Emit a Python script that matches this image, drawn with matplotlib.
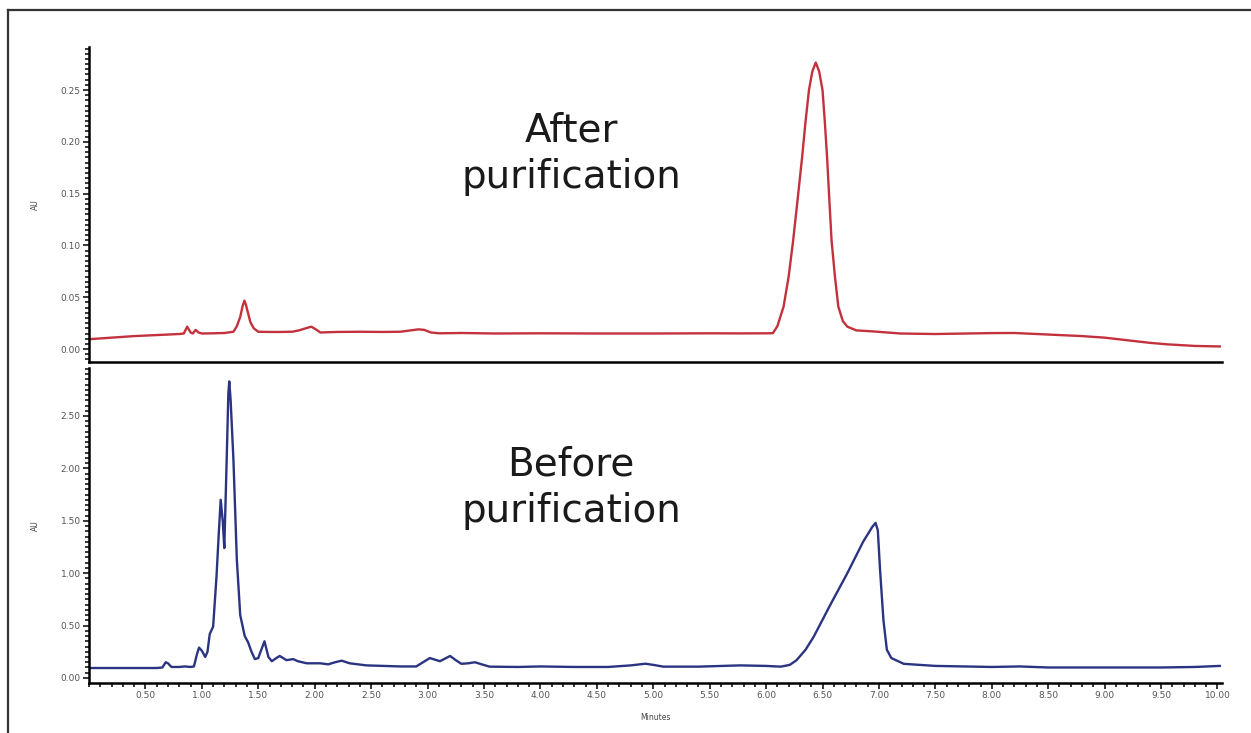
import matplotlib
matplotlib.use('Agg')
import matplotlib.pyplot as plt
from matplotlib.ticker import MultipleLocator, FormatStrFormatter
from matplotlib.lines import Line2D

# after purification (red trace), minutes vs AU
after_t = [0.00, 0.20, 0.40, 0.60, 0.80, 0.84, 0.87, 0.90, 0.92, 0.945, 0.97, 1.00, 1.10, 1.20, 1.28,
           1.31, 1.34, 1.36, 1.377, 1.39, 1.41, 1.43, 1.46, 1.50, 1.60, 1.70, 1.80, 1.86, 1.92, 1.97,
           2.01, 2.05, 2.20, 2.40, 2.60, 2.76, 2.85, 2.92, 2.97, 3.03, 3.10, 3.30, 3.60, 4.00, 4.50,
           5.00, 5.50, 5.77, 6.00, 6.06, 6.10, 6.155, 6.20, 6.24, 6.28, 6.32, 6.35, 6.38, 6.41, 6.44,
           6.47, 6.50, 6.52, 6.54, 6.56, 6.58, 6.61, 6.64, 6.68, 6.72, 6.80, 6.95, 7.19, 7.50, 8.00,
           8.20, 8.50, 8.80, 9.00, 9.20, 9.40, 9.56, 9.80, 10.02]
after_au = [0.0095, 0.011, 0.0125, 0.0135, 0.0145, 0.015, 0.0216, 0.016, 0.015, 0.0185, 0.016, 0.015, 0.0152, 0.0155, 0.0167,
            0.022, 0.031, 0.041, 0.0467, 0.043, 0.0344, 0.026, 0.020, 0.0167, 0.0165, 0.0165, 0.0167, 0.018, 0.020, 0.0216,
            0.019, 0.016, 0.0165, 0.0167, 0.0165, 0.0167, 0.018, 0.019, 0.0185, 0.016, 0.0152, 0.0155, 0.015, 0.0152, 0.015,
            0.015, 0.0152, 0.0151, 0.0152, 0.0153, 0.022, 0.041, 0.07, 0.105, 0.145, 0.186, 0.22, 0.25, 0.268, 0.2765,
            0.268, 0.25, 0.22, 0.186, 0.145, 0.105, 0.07, 0.041, 0.027, 0.0216, 0.018, 0.017, 0.015, 0.0145, 0.0154,
            0.0155, 0.014, 0.0125, 0.011, 0.0085, 0.006, 0.0045, 0.003, 0.0025]

# before purification (navy trace)
before_t = [0.00, 0.30, 0.60, 0.65, 0.68, 0.70, 0.73, 0.80, 0.85, 0.90, 0.93, 0.955, 0.975, 1.00, 1.03,
            1.05, 1.07, 1.10, 1.13, 1.15, 1.167, 1.185, 1.199, 1.22, 1.235, 1.243, 1.255, 1.28, 1.31, 1.34,
            1.38, 1.41, 1.44, 1.47, 1.50, 1.52, 1.555, 1.59, 1.62, 1.66, 1.69, 1.75, 1.81, 1.85, 1.93,
            2.05, 2.12, 2.18, 2.24, 2.31, 2.46, 2.76, 2.90, 2.96, 3.02, 3.11, 3.20, 3.25, 3.30, 3.36,
            3.42, 3.48, 3.55, 3.80, 4.00, 4.30, 4.60, 4.80, 4.93, 5.00, 5.09, 5.40, 5.77, 6.00, 6.13,
            6.21, 6.27, 6.35, 6.42, 6.57, 6.72, 6.86, 6.94, 6.97, 6.99, 7.01, 7.04, 7.07, 7.11, 7.22,
            7.50, 8.00, 8.25, 8.50, 9.00, 9.50, 9.80, 10.02]
before_au = [0.095, 0.095, 0.095, 0.10, 0.15, 0.14, 0.105, 0.105, 0.11, 0.105, 0.11, 0.22, 0.29, 0.26, 0.20,
             0.25, 0.42, 0.49, 0.97, 1.38, 1.70, 1.50, 1.24, 2.08, 2.72, 2.83, 2.65, 2.08, 1.13, 0.60,
             0.40, 0.34, 0.25, 0.18, 0.19, 0.25, 0.35, 0.20, 0.16, 0.19, 0.21, 0.17, 0.18, 0.16, 0.14,
             0.14, 0.13, 0.15, 0.165, 0.14, 0.12, 0.11, 0.11, 0.15, 0.19, 0.16, 0.21, 0.17, 0.135, 0.14,
             0.15, 0.13, 0.108, 0.105, 0.11, 0.105, 0.105, 0.12, 0.136, 0.125, 0.108, 0.108, 0.12, 0.115, 0.108,
             0.125, 0.17, 0.27, 0.39, 0.70, 1.00, 1.30, 1.44, 1.48, 1.41, 1.03, 0.55, 0.27, 0.19, 0.135,
             0.115, 0.105, 0.11, 0.10, 0.10, 0.10, 0.105, 0.115]

W, H = 1251, 733
fig = plt.figure(figsize=(W / 100, H / 100), dpi=100)
fig.patch.set_facecolor('white')

# outer frame (only top and left edges are visible in the crop)
fig.add_artist(Line2D([7.5 / W, 7.5 / W], [0, 1 - 10 / H], color='#333333', lw=1.6))
fig.add_artist(Line2D([7.5 / W, 1], [1 - 10 / H, 1 - 10 / H], color='#333333', lw=1.6))

left, right = 89 / W, 1222 / W
ax1 = fig.add_axes([left, 1 - 362 / H, right - left, (362 - 47) / H])
ax2 = fig.add_axes([left, 1 - 683 / H, right - left, (683 - 368) / H])

red = '#c3313d'
navy = '#2b3481'
ax1.plot(after_t, after_au, color=red, lw=1.7, solid_joinstyle='round')
ax2.plot(before_t, before_au, color=navy, lw=1.7, solid_joinstyle='round')

for ax in (ax1, ax2):
    ax.set_xlim(0, 10.04)
    for s in ('top', 'right'):
        ax.spines[s].set_visible(False)
    for s in ('left', 'bottom'):
        ax.spines[s].set_linewidth(1.8)
    ax.tick_params(axis='both', which='major', length=4.5, width=1.1, labelsize=6.5,
                   labelcolor='#555555', pad=1.5)
    ax.tick_params(axis='both', which='minor', length=3, width=1.1)
    ax.set_ylabel('AU', fontsize=5.5, color='#444444')
    ax.yaxis.set_label_coords(-0.043, 0.5)

ax1.set_ylim(-0.0125, 0.2915)
ax1.yaxis.set_major_locator(MultipleLocator(0.05))
ax1.yaxis.set_minor_locator(MultipleLocator(0.005))
ax1.yaxis.set_major_formatter(FormatStrFormatter('%.2f'))
ax1.tick_params(axis='x', which='both', bottom=False, labelbottom=False)

ax2.set_ylim(-0.048, 2.958)
ax2.yaxis.set_major_locator(MultipleLocator(0.5))
ax2.yaxis.set_minor_locator(MultipleLocator(0.05))
ax2.yaxis.set_major_formatter(FormatStrFormatter('%.2f'))
ax2.set_xticks([0.5 * i for i in range(1, 21)])
ax2.xaxis.set_minor_locator(MultipleLocator(0.1))
ax2.xaxis.set_major_formatter(FormatStrFormatter('%.2f'))
ax2.set_xlabel('Minutes', fontsize=5.5, color='#444444')
ax2.xaxis.set_label_coords(0.5, -0.095)

fig.text(571 / W, 1 - 154 / H, 'After\npurification', fontsize=28, ha='center', va='center',
         linespacing=1.3, color='#1a1a1a')
fig.text(571 / W, 1 - 488 / H, 'Before\npurification', fontsize=28, ha='center', va='center',
         linespacing=1.3, color='#1a1a1a')

fig.savefig('out.png', dpi=100)
